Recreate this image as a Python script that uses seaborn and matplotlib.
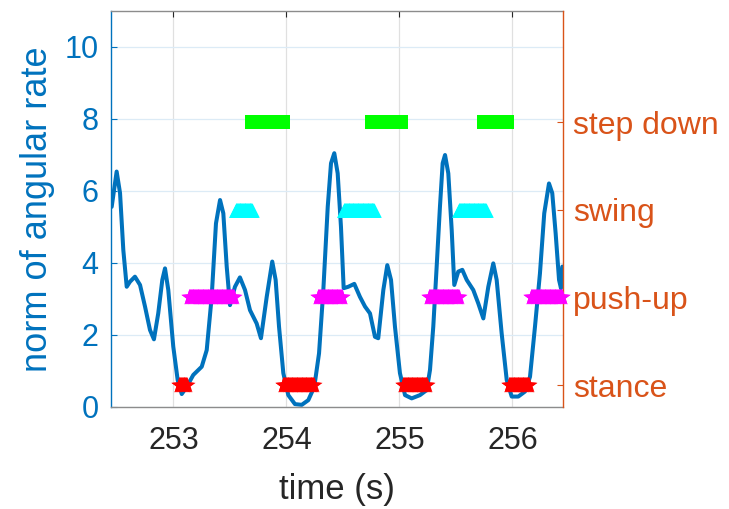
import numpy as np
import pandas as pd
import matplotlib.pyplot as plt
import seaborn as sns

sns.set_theme(style="white")
plt.rcParams['font.family'] = ['Liberation Sans', 'DejaVu Sans']

BLUE = '#0072BD'
ORANGE = '#D95319'
DARK = '#262626'

# norm of angular rate
time_s = [252.453, 252.497, 252.527, 252.556, 252.586, 252.615, 252.659, 252.704, 252.748, 252.792,
          252.827, 252.865, 252.901, 252.925, 252.954, 252.998, 253.037, 253.073, 253.117, 253.175,
          253.250, 253.294, 253.338, 253.376, 253.412, 253.441, 253.471, 253.500, 253.544, 253.588,
          253.633, 253.677, 253.736, 253.774, 253.825, 253.874, 253.904, 253.934, 253.972, 254.016,
          254.075, 254.135, 254.193, 254.246, 254.288, 254.326, 254.365, 254.394, 254.423, 254.453,
          254.482, 254.506, 254.547, 254.600, 254.650, 254.695, 254.739, 254.783, 254.812, 254.857,
          254.892, 254.925, 254.960, 255.004, 255.049, 255.108, 255.181, 255.241, 255.270, 255.299,
          255.329, 255.358, 255.382, 255.403, 255.432, 255.462, 255.485, 255.520, 255.556, 255.595,
          255.653, 255.697, 255.742, 255.786, 255.830, 255.860, 255.904, 255.949, 255.993, 256.051,
          256.111, 256.155, 256.199, 256.243, 256.281, 256.323, 256.352, 256.382, 256.412, 256.429,
          256.441]
rate = [5.56, 6.54, 5.94, 4.36, 3.34, 3.48, 3.62, 3.39, 2.79, 2.14,
        1.88, 2.60, 3.53, 3.85, 3.25, 1.68, 0.75, 0.36, 0.56, 0.89,
        1.12, 1.58, 3.06, 5.10, 5.75, 5.38, 3.90, 2.83, 3.34, 3.60,
        3.25, 2.69, 2.32, 1.91, 3.06, 4.04, 3.53, 2.23, 0.94, 0.33,
        0.08, 0.06, 0.19, 0.56, 1.49, 3.25, 5.56, 6.77, 7.05, 6.49,
        5.01, 3.30, 3.34, 3.42, 3.06, 2.79, 2.60, 1.95, 1.91, 3.25,
        3.94, 3.53, 2.23, 0.94, 0.33, 0.24, 0.33, 0.47, 1.03, 2.23,
        3.90, 5.56, 6.77, 7.00, 6.49, 4.92, 3.39, 3.76, 3.81, 3.53,
        3.25, 2.88, 2.46, 3.34, 3.99, 3.53, 2.05, 0.75, 0.29, 0.29,
        0.43, 0.84, 2.23, 3.71, 5.38, 6.21, 5.94, 4.82, 3.53, 3.30,
        3.90]

# gait phases (start, end) in seconds
phase_names = ['stance', 'push-up', 'swing', 'step down']
stance = [(253.049, 253.119), (253.969, 254.243), (255.031, 255.243), (255.969, 256.146)]
push_up = [(253.137, 253.535), (254.279, 254.491), (255.261, 255.527), (256.164, 256.440)]
swing = [(253.553, 253.695), (254.509, 254.774), (255.527, 255.765)]
step_down = [(253.695, 253.969), (254.757, 255.013), (255.748, 255.951)]

phase_styles = {
    'stance': ('*', '#FF0000', 150),
    'push-up': ('*', '#FF00FF', 150),
    'swing': ('^', '#00FFFF', 110),
    'step down': ('s', '#00FF00', 90),
}

fig = plt.figure(figsize=(7.29, 5.09), dpi=100)
ax = fig.add_axes([111 / 729, 1 - 407 / 509, 452 / 729, 396 / 509])
ax2 = ax.twinx()

sns.lineplot(x=time_s, y=rate, ax=ax, color=BLUE, linewidth=2.9,
             solid_joinstyle='round', solid_capstyle='round')

for level, (name, spans) in enumerate(zip(phase_names, [stance, push_up, swing, step_down]), start=1):
    pts = np.concatenate([np.arange(a, b + 1e-9, 0.004) for a, b in spans])
    d = pd.DataFrame({'t': pts, 'level': level})
    marker, color, size = phase_styles[name]
    sns.scatterplot(data=d, x='t', y='level', ax=ax2, marker=marker, color=color,
                    s=size, linewidth=0, legend=False, clip_on=False, zorder=3)

ax.set_xlim(252.447, 256.447)
ax.set_ylim(0, 11)
ax.set_xticks([253, 254, 255, 256])
ax.set_yticks([0, 2, 4, 6, 8, 10])
ax2.set_ylim(0.75, 5.27)
ax2.set_yticks([1, 2, 3, 4])
ax2.set_yticklabels(phase_names)

ax.xaxis.grid(True, color='#E0E0E0', linewidth=0.9)
ax.yaxis.grid(True, color='#DCEBF6', linewidth=0.9)
ax.set_axisbelow(True)

ax.tick_params(axis='x', direction='in', top=True, length=4, width=0.8,
               colors=DARK, labelsize=22, pad=14)
ax.tick_params(axis='y', direction='in', length=4, width=0.8, colors=BLUE, labelsize=22, pad=9)
ax2.tick_params(axis='y', direction='in', length=4, width=0.8, colors=ORANGE, labelsize=23, pad=7)

for s in ['top', 'bottom']:
    ax.spines[s].set_color('#8C8C8C')
    ax.spines[s].set_linewidth(1.0)
    ax2.spines[s].set_visible(False)
ax.spines['left'].set_color(BLUE)
ax.spines['right'].set_visible(False)
ax2.spines['left'].set_visible(False)
ax2.spines['right'].set_color(ORANGE)
for s in ['left', 'right']:
    ax.spines[s].set_linewidth(1.0)
    ax2.spines[s].set_linewidth(1.0)

ax.set_xlabel('time (s)', fontsize=25, color=DARK, labelpad=12)
ax.set_ylabel('norm of angular rate', fontsize=26, color=BLUE, labelpad=7)
ax2.set_ylabel('')

fig.savefig('out.png', dpi=100)
